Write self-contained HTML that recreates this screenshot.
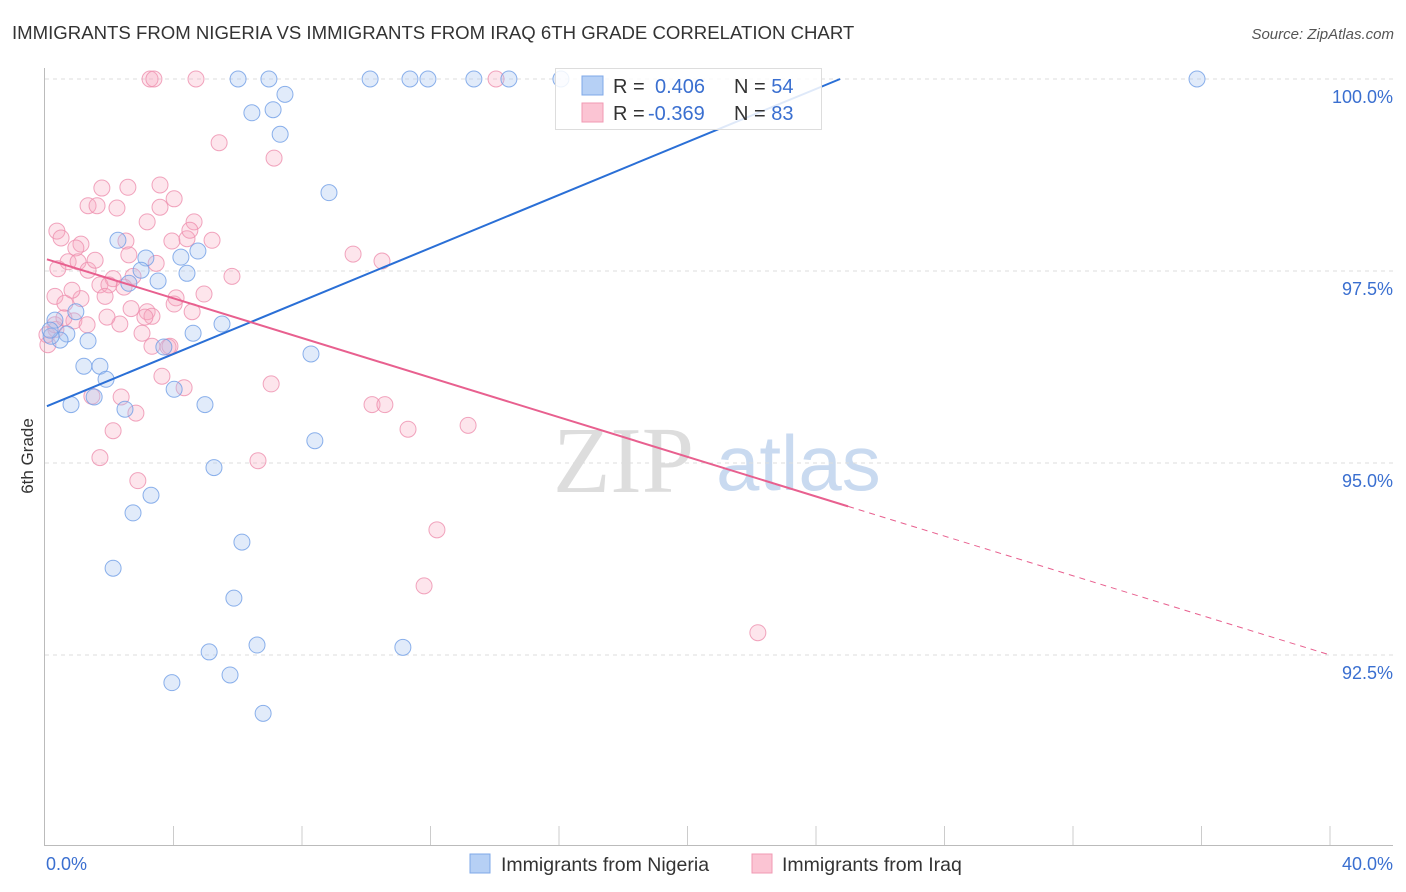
<!DOCTYPE html>
<html><head><meta charset="utf-8"><style>
body{margin:0;background:#fff;font-family:"Liberation Sans",sans-serif;}
#wrap{position:relative;width:1406px;height:892px;overflow:hidden;}
</style></head><body>
<div id="wrap">
<svg id="chart" width="1406" height="892" xmlns="http://www.w3.org/2000/svg">
<text x="12" y="39" font-size="18.6" fill="#333">IMMIGRANTS FROM NIGERIA VS IMMIGRANTS FROM IRAQ 6TH GRADE CORRELATION CHART</text>
<text x="1394" y="39" font-size="15" fill="#555" font-style="italic" text-anchor="end">Source: ZipAtlas.com</text>
<text x="33" y="456" font-size="17" fill="#333" transform="rotate(-90 33 456)" text-anchor="middle">6th Grade</text>
<g><text x="553" y="492" font-size="94" fill="#ddd" font-family="Liberation Serif,serif">ZIP</text><text x="716" y="490" font-size="78" fill="#c9daf0">atlas</text></g>
<g id="grid"></g><g id="axes"></g><g id="pts"></g><g id="trends"></g>
<g>
<rect x="555.5" y="68.5" width="266" height="61" fill="#fff" fill-opacity="0.85" stroke="#ddd"/>
<rect x="582" y="76" width="21" height="19" fill="#b6d0f5" stroke="#7fa8e8"/>
<rect x="582" y="103" width="21" height="19" fill="#fbc4d3" stroke="#f09ab3"/>
<text x="613" y="93" font-size="20" fill="#333">R = <tspan x="655" fill="#3a6fd0">0.406</tspan><tspan x="734" fill="#333">N = </tspan><tspan fill="#3a6fd0">54</tspan></text>
<text x="613" y="120" font-size="20" fill="#333">R = <tspan x="648" fill="#3a6fd0">-0.369</tspan><tspan x="734" fill="#333">N = </tspan><tspan fill="#3a6fd0">83</tspan></text>
</g>
<g>
<rect x="470" y="854" width="20" height="19" fill="#b6d0f5" stroke="#7fa8e8"/>
<text x="501" y="871" font-size="19.5" fill="#333">Immigrants from Nigeria</text>
<rect x="752" y="854" width="20" height="19" fill="#fbc4d3" stroke="#f09ab3"/>
<text x="782" y="871" font-size="19.5" fill="#333">Immigrants from Iraq</text>
</g>
</svg>
</div>
<script>
const yTicks=[100,97.5,95,92.5];
const yTickLabels=["100.0%","97.5%","95.0%","92.5%"];
const xLabels=["0.0%","40.0%"];
const nigeriaX=[6.01,6.97,10.12,11.36,11.92,13.35,14.44,16.06,35.86,6.44,7.10,7.47,7.32,8.84,2.27,3.14,4.23,4.76,2.99,4.42,2.61,3.52,0.96,0.31,0.68,0.47,1.34,0.19,4.61,5.51,3.70,8.28,1.21,1.71,1.90,4.02,1.53,0.81,2.49,4.98,8.40,5.26,3.30,2.74,6.13,2.12,5.88,5.11,6.60,11.14,3.95,5.76,6.79,0.16];
const nigeriaY=[100,100,100,100,100,100,100,100,100,99.56,99.6,99.8,99.28,98.52,97.90,97.67,97.68,97.76,97.51,97.47,97.34,97.37,96.97,96.86,96.68,96.60,96.59,96.65,96.69,96.81,96.51,96.42,96.26,96.26,96.09,95.96,95.86,95.76,95.70,95.76,95.29,94.94,94.58,94.35,93.97,93.63,93.24,92.54,92.63,92.60,92.14,92.24,91.74,96.73];
const iraqX=[3.27,3.39,4.70,14.04,5.42,7.13,1.77,2.58,3.58,4.02,1.34,1.62,2.24,3.58,3.18,4.64,0.37,0.50,1.12,0.96,2.52,3.95,4.42,5.20,4.51,9.59,10.49,0.72,1.03,0.40,1.34,3.46,2.61,5.82,2.12,1.71,1.99,1.87,2.74,4.95,4.08,0.31,0.62,1.12,4.02,4.58,2.68,3.18,3.33,3.11,0.90,1.31,2.33,3.02,0.06,0.34,3.83,3.64,7.04,4.33,1.46,2.37,10.18,10.58,2.83,2.12,11.30,13.17,1.71,6.63,2.89,12.20,11.80,22.19,0.31,0.09,1.93,0.59,0.84,1.56,3.33,3.89,2.46];
const iraqY=[100,100,100,100,99.17,98.97,98.58,98.59,98.62,98.44,98.35,98.35,98.32,98.33,98.14,98.14,98.02,97.93,97.85,97.80,97.89,97.89,97.92,97.90,98.03,97.72,97.63,97.62,97.62,97.53,97.51,97.60,97.71,97.43,97.40,97.32,97.32,97.17,97.43,97.20,97.15,97.17,97.08,97.14,97.07,96.97,97.01,96.97,96.91,96.90,96.85,96.80,96.81,96.69,96.67,96.74,96.51,96.13,96.03,95.98,95.87,95.86,95.76,95.76,95.65,95.42,95.44,95.49,95.07,95.03,94.77,94.13,93.40,92.79,96.80,96.54,96.90,96.89,97.25,97.64,96.52,96.52,97.29];
const nigeriaTrend=[95.74,24.75];
const iraqTrend=[97.66,92.5];
const iraqSolidEnd=25;
const X=v=>45+v*32.125, Y=v=>79+(100-v)*76.8;
const NS="http://www.w3.org/2000/svg";
function mk(t,a,p){const e=document.createElementNS(NS,t);for(const k in a)e.setAttribute(k,a[k]);p.appendChild(e);return e;}
const grid=document.getElementById('grid'),axes=document.getElementById('axes');
yTicks.forEach((t,i)=>{
 const g=mk('line',{x1:45,x2:1393,y1:Y(t),y2:Y(t),stroke:'#ddd','stroke-dasharray':'4,4'},grid);
 
 
 const l=mk('text',{x:1393,y:Y(t)+24,'font-size':18,fill:'#3a6fd0','text-anchor':'end'},grid);
 l.textContent=yTickLabels[i];
 
 
});
let a=mk('line',{x1:44.5,x2:44.5,y1:68,y2:845,stroke:'#bbb'},axes);


a=mk('line',{x1:44,x2:1393,y1:845.5,y2:845.5,stroke:'#bbb'},axes);


for(let i=1;i<=10;i++){const t=mk('line',{x1:X(i*4),x2:X(i*4),y1:826,y2:845,stroke:'#ccc'},axes);
 
 }
[[0,'start',46],[40,'end',1393]].forEach((d,i)=>{const t=mk('text',{x:d[2],y:870,'font-size':18,fill:'#3a6fd0','text-anchor':d[1]},axes);t.textContent=xLabels[i];
 
 });
const pts=document.getElementById('pts');
iraqX.forEach((x,i)=>{const c=mk('circle',{cx:X(x),cy:Y(iraqY[i]),r:8,fill:'#f7a8c0','fill-opacity':0.3,stroke:'#ee8fae','stroke-opacity':0.8},pts);
 
 });
nigeriaX.forEach((x,i)=>{const c=mk('circle',{cx:X(x),cy:Y(nigeriaY[i]),r:8,fill:'#a8c6f2','fill-opacity':0.35,stroke:'#6f9ee6','stroke-opacity':0.8},pts);
 
 });
const tr=document.getElementById('trends');
let l=mk('line',{x1:X(0.06),y1:Y(nigeriaTrend[0]),x2:X(nigeriaTrend[1]),y2:Y(100),stroke:'#2a6fd6','stroke-width':2},tr);


const iy=x=>iraqTrend[0]+(iraqTrend[1]-iraqTrend[0])*x/40;
l=mk('line',{x1:X(0.06),y1:Y(iy(0.06)),x2:X(iraqSolidEnd),y2:Y(iy(iraqSolidEnd)),stroke:'#e8608f','stroke-width':2},tr);


l=mk('line',{x1:X(iraqSolidEnd),y1:Y(iy(iraqSolidEnd)),x2:X(40),y2:Y(iy(40)),stroke:'#e8608f','stroke-width':1,'stroke-dasharray':'6,5'},tr);


</script>
</body></html>
